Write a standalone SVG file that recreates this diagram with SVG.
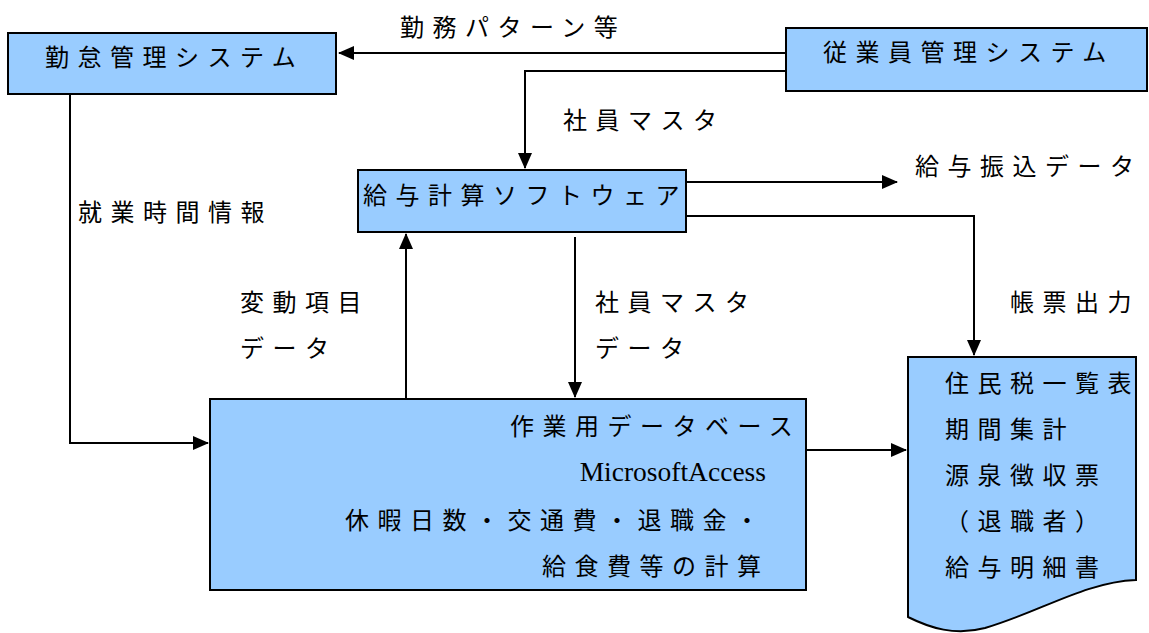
<svg xmlns="http://www.w3.org/2000/svg" width="1149" height="633" viewBox="0 0 1149 633">
<style>
.box{fill:#99CCFF;stroke:#000;stroke-width:2}
.t{font-family:"Noto Sans CJK JP","Noto Sans",sans-serif;font-size:24px;letter-spacing:8.5px;fill:#000}
.s{font-family:"Liberation Serif",serif;font-size:27.5px;fill:#000}
.c{fill:none;stroke:#000;stroke-width:2}
</style>
<defs>
<marker id="ah" markerUnits="userSpaceOnUse" markerWidth="16" markerHeight="14" refX="15" refY="7" orient="auto">
<path d="M0,0 L16,7 L0,14 Z" fill="#000"/>
</marker>
</defs>
<rect width="1149" height="633" fill="#fff"/>
<g id="connectors">
<path class="c" d="M786,53 L339,53" marker-end="url(#ah)"/>
<path class="c" d="M786,71 L525,71 L525,168" marker-end="url(#ah)"/>
<path class="c" d="M70,94 L70,443 L208,443" marker-end="url(#ah)"/>
<path class="c" d="M406,399 L406,234" marker-end="url(#ah)"/>
<path class="c" d="M575,237 L575,397" marker-end="url(#ah)"/>
<path class="c" d="M686,182 L897,182" marker-end="url(#ah)"/>
<path class="c" d="M686,216 L974,216 L974,355" marker-end="url(#ah)"/>
<path class="c" d="M806,450 L906,450" marker-end="url(#ah)"/>
</g>
<g id="labels">
<text class="t" x="400" y="36">勤務パターン等</text>
<text class="t" x="563" y="129">社員マスタ</text>
<text class="t" x="915" y="175">給与振込データ</text>
<text class="t" x="78" y="221">就業時間情報</text>
<text class="t" x="240" y="311">変動項目</text>
<text class="t" x="240" y="357">データ</text>
<text class="t" x="595" y="311">社員マスタ</text>
<text class="t" x="595" y="357">データ</text>
<text class="t" x="1010" y="311">帳票出力</text>
</g>
<g id="kintai">
<rect class="box" x="8" y="33" width="328" height="61"/>
<text class="t" x="45" y="66">勤怠管理システム</text>
</g>
<g id="jugyoin">
<rect class="box" x="786" y="28" width="361" height="63"/>
<text class="t" x="823" y="61">従業員管理システム</text>
</g>
<g id="kyuyo">
<rect class="box" x="358" y="170" width="328" height="62"/>
<text class="t" x="363" y="204">給与計算ソフトウェア</text>
</g>
<g id="db">
<rect class="box" x="210" y="399" width="596" height="191"/>
<text class="t" x="510" y="435">作業用データベース</text>
<text class="s" x="766" y="481" text-anchor="end">MicrosoftAccess</text>
<text class="t" x="345" y="529">休暇日数・交通費・退職金・</text>
<text class="t" x="542" y="575">給食費等の計算</text>
</g>
<g id="chohyo">
<path class="box" d="M908,357 L1136,357 L1136,580 C1085,582 1040,612 985,628 C955,636 930,628 908,617 Z"/>
<text class="t" x="945" y="392">住民税一覧表</text>
<text class="t" x="945" y="438">期間集計</text>
<text class="t" x="945" y="484">源泉徴収票</text>
<text class="t" x="945" y="530">（退職者）</text>
<text class="t" x="945" y="576">給与明細書</text>
</g>
</svg>
